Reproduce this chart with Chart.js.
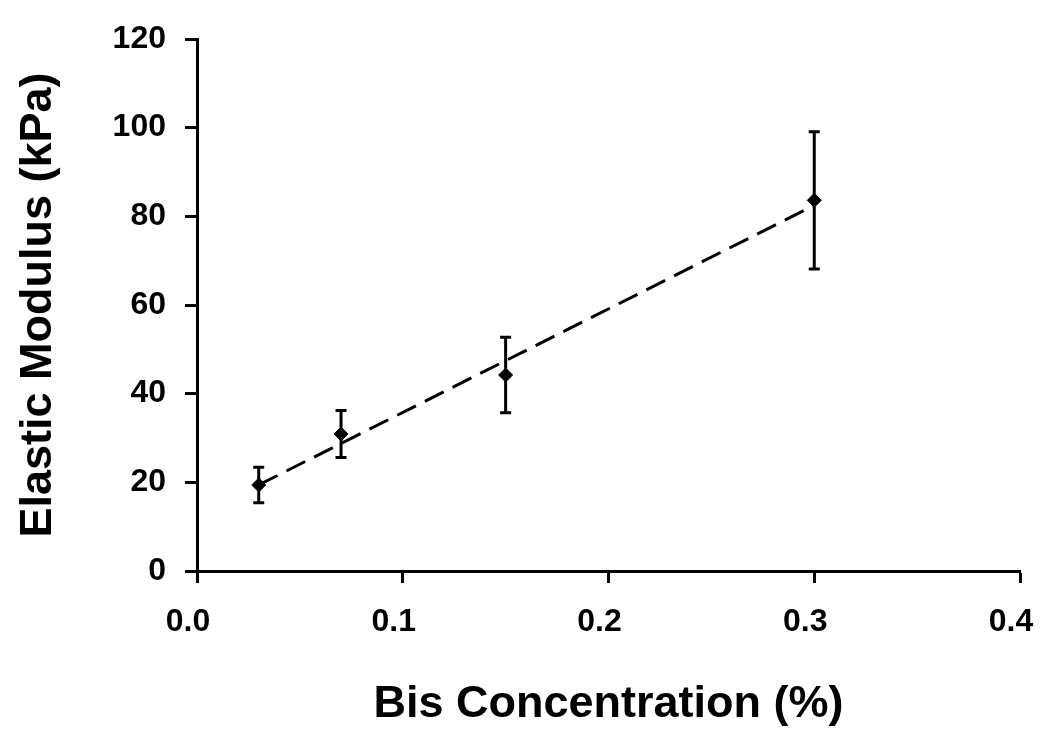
<!DOCTYPE html>
<html>
<head>
<meta charset="utf-8">
<script src="https://cdn.jsdelivr.net/npm/chart.js@4/dist/chart.umd.min.js"></script>
<style>
  html, body { margin: 0; padding: 0; background: #fff; }
  canvas { display: block; }
</style>
</head>
<body>
<canvas id="c" width="1050" height="756"></canvas>
<script>
// ---- Data ----
const bisConcentration = [0.03, 0.07, 0.15, 0.30];      // x, %
const elasticModulus   = [19.4, 30.9, 44.2, 83.6];      // y, kPa
const modulusError     = [4.0, 5.3, 8.5, 15.5];         // ± kPa
const xTickValues = [0.0, 0.1, 0.2, 0.3, 0.4];
const yTickValues = [0, 20, 40, 60, 80, 100, 120];
const xTitle = 'Bis Concentration (%)';
const yTitle = 'Elastic Modulus (kPa)';

// Linear trendline (least squares) through the data
function linFit(xs, ys) {
  const n = xs.length;
  const mx = xs.reduce((a, b) => a + b, 0) / n;
  const my = ys.reduce((a, b) => a + b, 0) / n;
  let sxy = 0, sxx = 0;
  for (let i = 0; i < n; i++) { sxy += (xs[i] - mx) * (ys[i] - my); sxx += (xs[i] - mx) ** 2; }
  const m = sxy / sxx;
  return { m, b: my - m * mx };
}
const fit = linFit(bisConcentration, elasticModulus);
const trendX = [bisConcentration[0], bisConcentration[bisConcentration.length - 1]];
const trendPoints = trendX.map(x => ({ x, y: fit.m * x + fit.b }));
const points = bisConcentration.map((x, i) => ({ x, y: elasticModulus[i] }));

const FONT = '"Liberation Sans", Arial, Helvetica, sans-serif';

const errorBarPlugin = {
  id: 'errorBars',
  afterDatasetsDraw(chart) {
    const ctx = chart.ctx;
    const xs = chart.scales.x, ys = chart.scales.y;
    ctx.save();
    ctx.strokeStyle = '#000';
    ctx.lineWidth = 3;
    const cap = 5.5;
    bisConcentration.forEach((x, i) => {
      const px = xs.getPixelForValue(x);
      const top = ys.getPixelForValue(elasticModulus[i] + modulusError[i]);
      const bot = ys.getPixelForValue(elasticModulus[i] - modulusError[i]);
      ctx.beginPath();
      ctx.moveTo(px, top); ctx.lineTo(px, bot);
      ctx.moveTo(px - cap, top); ctx.lineTo(px + cap, top);
      ctx.moveTo(px - cap, bot); ctx.lineTo(px + cap, bot);
      ctx.stroke();
    });
    ctx.restore();
  }
};

new Chart(document.getElementById('c'), {
  type: 'scatter',
  data: {
    datasets: [
      {
        label: 'Trend',
        type: 'line',
        data: trendPoints,
        borderColor: '#000',
        borderWidth: 3,
        borderDash: [21, 10],
        pointRadius: 0,
        fill: false,
        order: 2
      },
      {
        label: 'Elastic Modulus',
        data: points,
        pointStyle: 'rectRot',
        pointRadius: 7,
        backgroundColor: '#000',
        borderColor: '#000',
        borderWidth: 1,
        order: 1
      }
    ]
  },
  options: {
    responsive: false,
    animation: false,
    events: [],
    layout: { padding: { top: 39, right: 30, left: 0, bottom: 0 } },
    plugins: {
      legend: { display: false },
      tooltip: { enabled: false }
    },
    scales: {
      x: {
        type: 'linear',
        min: 0, max: 0.4,
        afterBuildTicks(scale) { scale.ticks = xTickValues.map(v => ({ value: v })); },
        afterFit(scale) { scale.height = 185; scale.paddingLeft = 0; scale.paddingRight = 0; },
        ticks: {
          color: '#000',
          font: { family: FONT, size: 32, weight: 'bold' },
          padding: 20,
          labelOffset: -9,
          maxRotation: 0,
          callback: v => Number(v).toFixed(1)
        },
        grid: {
          display: true, drawOnChartArea: false, drawTicks: true,
          tickLength: 12, tickColor: '#000', tickWidth: 3
        },
        border: { display: true, color: '#000', width: 3 },
        title: {
          display: true, text: xTitle, color: '#000',
          font: { family: FONT, size: 45, weight: 'bold' },
          padding: { top: 0, bottom: 24 }
        }
      },
      y: {
        type: 'linear',
        min: 0, max: 120,
        afterBuildTicks(scale) { scale.ticks = yTickValues.map(v => ({ value: v })); },
        afterFit(scale) { scale.width = 197; scale.paddingTop = 0; scale.paddingBottom = 0; },
        ticks: {
          color: '#000',
          font: { family: FONT, size: 32, weight: 'bold' },
          padding: 19,
          callback: v => String(v)
        },
        grid: {
          display: true, drawOnChartArea: false, drawTicks: true,
          tickLength: 12, tickColor: '#000', tickWidth: 3
        },
        border: { display: true, color: '#000', width: 3 },
        title: {
          display: true, text: yTitle, color: '#000',
          font: { family: FONT, size: 45, weight: 'bold' },
          padding: { top: 12, bottom: 0 }
        }
      }
    }
  },
  plugins: [errorBarPlugin]
});
</script>
</body>
</html>
